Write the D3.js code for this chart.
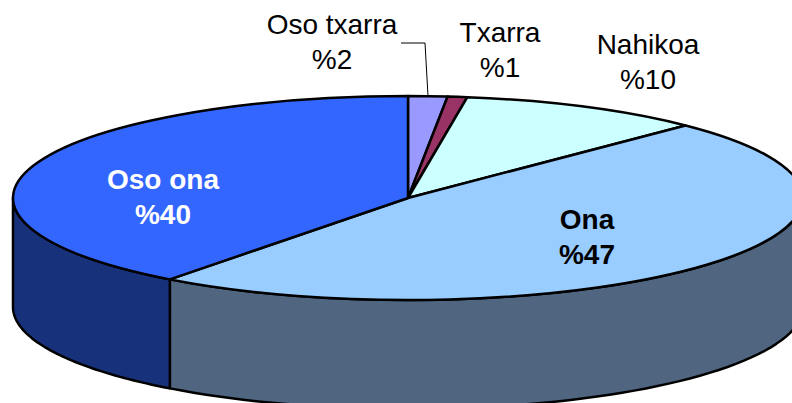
<!DOCTYPE html>
<html>
<head>
<meta charset="utf-8">
<script src="https://cdn.jsdelivr.net/npm/d3@7"></script>
<style>
html, body { margin: 0; padding: 0; background: #fff; }
svg { display: block; }
text { font-family: "Liberation Sans", Arial, sans-serif; font-size: 28px; text-anchor: middle; }
</style>
</head>
<body>
<script>
var width = 792,
	height = 403;

// clockwise from the top, shares
var categories = ["Oso txarra", "Txarra", "Nahikoa", "Ona", "Oso ona"];
var shares = [1.6, 0.8, 10, 47.9, 39.7];
var percentLabels = ["%2", "%1", "%10", "%47", "%40"];
var topColors = ["#9999ff", "#993366", "#ccffff", "#99ccff", "#3366ff"];
var sideColors = ["#4d4d80", "#4d1a33", "#668080", "#4f6580", "#17317a"];
var labelColors = ["#000", "#000", "#000", "#000", "#fff"];
var labelWeights = ["normal", "normal", "normal", "bold", "bold"];
var labelX = [332, 500, 648, 587, 163];
var labelY = [34, 42, 54, 229, 189];

var cx = 408, cy = 198, rx = 395, ry = 102, depth = 109;

var svg = d3.select("body").append("svg")
    .attr("width", width)
    .attr("height", height);

var pie = d3.pie().sort(null).value(function(d) { return d; });
var slices = pie(shares);

var arc = d3.arc().innerRadius(0).outerRadius(rx);

// front wall: walk the rim of each slice that faces the viewer
function wallPath(d) {
	var a0 = Math.max(d.startAngle, Math.PI / 2),
		a1 = Math.min(d.endAngle, Math.PI * 1.5);
	if (a1 <= a0) return null;
	var steps = d3.range(0, 61).map(function(i) { return a0 + (a1 - a0) * i / 60; });
	var area = d3.area()
	    .x(function(a) { return cx + rx * Math.sin(a); })
	    .y0(function(a) { return cy - ry * Math.cos(a) + depth; })
	    .y1(function(a) { return cy - ry * Math.cos(a); });
	return area(steps);
}

svg.selectAll("path.wall")
    .data(slices)
  .enter().append("path")
    .attr("class", "wall")
    .attr("d", wallPath)
    .attr("fill", function(d, i) { return sideColors[i]; })
    .attr("stroke", "#000")
    .attr("stroke-width", 2.5)
    .attr("stroke-linejoin", "round");

svg.append("g")
    .attr("transform", "translate(" + cx + "," + cy + ") scale(1," + (ry / rx) + ")")
  .selectAll("path")
    .data(slices)
  .enter().append("path")
    .attr("d", arc)
    .attr("fill", function(d, i) { return topColors[i]; })
    .attr("stroke", "#000")
    .attr("stroke-width", 2.5)
    .attr("stroke-linejoin", "round")
    .attr("vector-effect", "non-scaling-stroke");

// leader line for the first label
svg.append("path")
    .attr("d", d3.line()([[401, 43], [425, 43], [428, 96]]))
    .attr("fill", "none")
    .attr("stroke", "#000")
    .attr("stroke-width", 1);

var labels = svg.selectAll("text.label")
    .data(categories)
  .enter().append("text")
    .attr("class", "label")
    .attr("fill", function(d, i) { return labelColors[i]; })
    .attr("font-weight", function(d, i) { return labelWeights[i]; });

labels.append("tspan")
    .attr("x", function(d, i) { return labelX[i]; })
    .attr("y", function(d, i) { return labelY[i]; })
    .text(function(d) { return d; });

labels.append("tspan")
    .attr("x", function(d, i) { return labelX[i]; })
    .attr("y", function(d, i) { return labelY[i] + 35; })
    .text(function(d, i) { return percentLabels[i]; });
</script>
</body>
</html>
